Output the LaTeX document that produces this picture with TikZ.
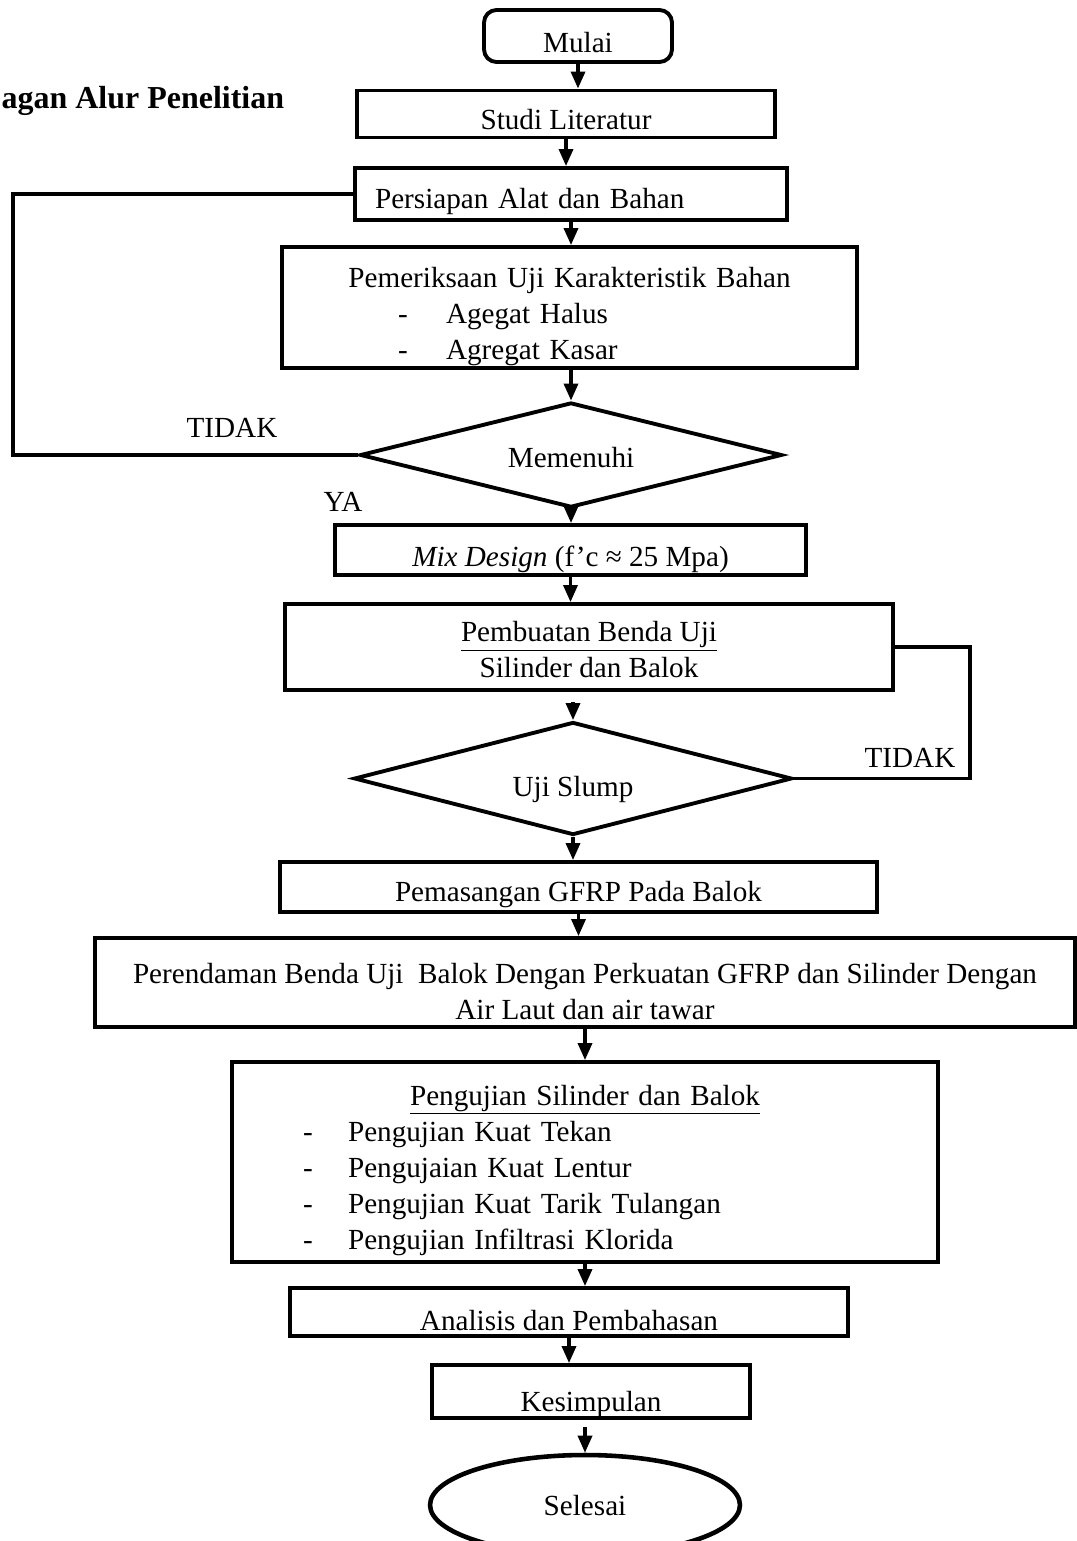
\documentclass[tikz,border=0pt]{standalone}
\usepackage{fontspec}
\setmainfont{Liberation Serif}
\usetikzlibrary{shapes.geometric,arrows.meta}

\begin{document}
\begin{tikzpicture}[
                x=0.02cm, y=-0.02cm,
                font=\fontsize{16.6}{20.5}\selectfont,
                process/.style={draw, rectangle, line width=2.2pt, inner sep=0pt, align=center},
                terminal/.style={draw, rectangle, rounded corners=0.25cm, line width=2.2pt, inner sep=0pt, align=center},
                decision/.style={draw, diamond, aspect=4, line width=2.2pt, inner sep=0pt, align=center},
                finish/.style={draw, ellipse, line width=2.6pt, inner sep=0pt, align=center},
                base/.style={text height={0.04cm*#1}, text depth=0pt},
                baseup/.style={text height=0pt, text depth={0.04cm*#1}},
                tag/.style={inner sep=0pt},
                ->, >={Triangle[length=0.34cm,width=0.28cm]}, line width=1.9pt
            ]
            \useasboundingbox (0,0) rectangle (1077,1541);

            % Title
            \node[tag, anchor=base west, font=\fontsize{18.2}{22}\selectfont\bfseries] (judul) at (0,109) {agan Alur Penelitian};

            % Nodes
            \node[terminal, base=17, minimum width=3.76cm, minimum height=1.04cm] (mulai) at (578,36) {Mulai};
            \node[process, base=16, minimum width=8.36cm, minimum height=0.94cm] (studi) at (566,114) {Studi Literatur};
            \node[process, base=15, minimum width=8.64cm, minimum height=1.04cm, text width=7.84cm, align=left] (persiapan) at (571,194) {Persiapan Alat dan Bahan};
            \node[process, baseup=20.5, minimum width=11.5cm, minimum height=2.42cm, text width=10.5cm, align=left] (periksa) at (569.5,307.5)
                {\makebox[10.5cm]{Pemeriksaan Uji Karakteristik Bahan}\\
                 \hspace*{1.82cm}\makebox[0.96cm][l]{-}Agegat Halus\\
                 \hspace*{1.82cm}\makebox[0.96cm][l]{-}Agregat Kasar};
            \node[decision, base=13, minimum width=8.44cm, minimum height=2.1cm] (memenuhi) at (571,455) {Memenuhi};
            \node[process, base=17, minimum width=9.42cm, minimum height=1.0cm] (mix) at (570.5,550) {\textit{Mix Design} (f’c ≈ 25 Mpa)};
            \node[process, base=31, minimum width=12.16cm, minimum height=1.72cm] (pembuatan) at (589,647) {\underline{Pembuatan Benda Uji}\\ Silinder dan Balok};
            \node[decision, base=18, minimum width=8.76cm, minimum height=2.26cm] (slump) at (573,778.5) {Uji Slump};
            \node[process, base=14, minimum width=11.94cm, minimum height=1.0cm] (pemasangan) at (578.5,887) {Pemasangan GFRP Pada Balok};
            \node[process, base=37.5, minimum width=19.6cm, minimum height=1.78cm] (rendam) at (585,982.5) {Perendaman Benda Uji~ Balok Dengan Perkuatan GFRP dan Silinder Dengan\\ Air Laut dan air tawar};
            \node[process, baseup=57, minimum width=14.12cm, minimum height=4.0cm, text width=13.2cm, align=left] (pengujian) at (585,1162)
                {\makebox[13.2cm]{\underline{Pengujian Silinder dan Balok}}\\
                 \hspace*{0.96cm}\makebox[0.9cm][l]{-}Pengujian Kuat Tekan\\
                 \hspace*{0.96cm}\makebox[0.9cm][l]{-}Pengujaian Kuat Lentur\\
                 \hspace*{0.96cm}\makebox[0.9cm][l]{-}Pengujian Kuat Tarik Tulangan\\
                 \hspace*{0.96cm}\makebox[0.9cm][l]{-}Pengujian Infiltrasi Klorida};
            \node[process, base=18, minimum width=11.16cm, minimum height=0.96cm] (analisis) at (569,1312) {Analisis dan Pembahasan};
            \node[process, base=20, minimum width=6.36cm, minimum height=1.06cm] (kesimpulan) at (591,1391.5) {Kesimpulan};
            \node[finish, base=10, minimum width=6.2cm, minimum height=2.0cm] (selesai) at (585,1505) {Selesai};

            % Labels
            \node[tag] (tidak1) at (232,428) {TIDAK};
            \node[tag] (ya) at (343,502) {YA};
            \node[tag] (tidak2) at (910,758) {TIDAK};

            % Edges
            \draw (mulai.south) -- (mulai.south |- studi.north);
            \draw (studi.south) -- (studi.south |- persiapan.north);
            \draw (persiapan.south) -- (persiapan.south |- periksa.north);
            \draw (periksa.south -| memenuhi.north) -- (memenuhi.north);
            \draw (memenuhi.south) -- (memenuhi.south |- mix.north);
            \draw (mix.south) -- (mix.south |- pembuatan.north);
            \draw [shorten <=0.2cm] (pembuatan.south -| slump.north) -- (slump.north);
            \draw (slump.south) -- (slump.south |- pemasangan.north);
            \draw (pemasangan.south) -- (pemasangan.south |- rendam.north);
            \draw (rendam.south) -- (rendam.south |- pengujian.north);
            \draw (pengujian.south) -- (pengujian.south |- analisis.north);
            \draw (analisis.south) -- (analisis.south |- kesimpulan.north);
            \draw [shorten <=0.14cm] (kesimpulan.south -| selesai.north) -- (selesai.north);

            % Loops back
            \coordinate (kiri) at (13,0);
            \coordinate (kanan) at (970,0);
            \draw [-] (memenuhi.west) -- (memenuhi.west -| kiri) |- (persiapan.west);
            \draw [-] (pembuatan.east) -- (pembuatan.east -| kanan) |- (slump.east);

            \end{tikzpicture}
\end{document}
